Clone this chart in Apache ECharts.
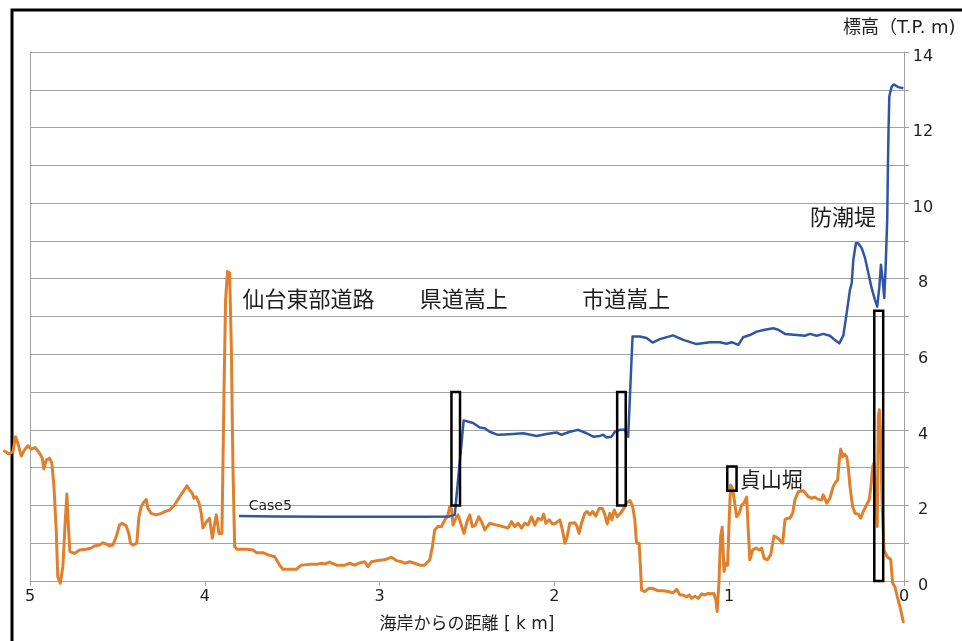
<!DOCTYPE html>
<html>
<head>
<meta charset="utf-8">
<script src="https://cdn.jsdelivr.net/npm/echarts@6/dist/echarts.min.js"></script>
<style>
  html, body { margin: 0; padding: 0; background: #fff; }
  #chart { width: 962px; height: 641px; }
</style>
</head>
<body>
<div id="chart"></div>
<script>
// Ground elevation profile along the survey line (distance from coast, km / elevation T.P. m)
const terrainX = [
  5.146, 5.121, 5.098, 5.083, 5.070, 5.050, 5.031, 5.012, 4.993, 4.970, 4.945, 4.930, 4.921, 4.907, 4.888, 4.875,
  4.863, 4.850, 4.841, 4.827, 4.812, 4.798, 4.789, 4.779, 4.772, 4.745, 4.717, 4.678, 4.650, 4.631, 4.602, 4.583,
  4.564, 4.545, 4.526, 4.507, 4.488, 4.473, 4.450, 4.435, 4.425, 4.412, 4.389, 4.377, 4.364, 4.351, 4.335, 4.326,
  4.307, 4.278, 4.249, 4.221, 4.201, 4.173, 4.144, 4.125, 4.102, 4.087, 4.071, 4.062, 4.049, 4.033, 4.020, 4.011,
  3.991, 3.973, 3.957, 3.943, 3.934, 3.919, 3.902, 3.890, 3.881, 3.870, 3.858, 3.848, 3.839, 3.829, 3.816, 3.762,
  3.724, 3.705, 3.667, 3.638, 3.600, 3.572, 3.553, 3.476, 3.448, 3.400, 3.362, 3.333, 3.314, 3.286, 3.247, 3.200,
  3.171, 3.143, 3.114, 3.085, 3.066, 3.047, 3.009, 2.971, 2.932, 2.904, 2.875, 2.856, 2.828, 2.799, 2.770, 2.742,
  2.713, 2.698, 2.685, 2.666, 2.646, 2.627, 2.608, 2.599, 2.589, 2.580, 2.564, 2.551, 2.536, 2.517, 2.500, 2.484,
  2.469, 2.452, 2.433, 2.417, 2.398, 2.370, 2.331, 2.294, 2.265, 2.246, 2.227, 2.208, 2.188, 2.169, 2.151, 2.131,
  2.112, 2.093, 2.074, 2.061, 2.049, 2.030, 2.011, 1.992, 1.969, 1.954, 1.940, 1.927, 1.912, 1.883, 1.870, 1.859,
  1.845, 1.826, 1.813, 1.797, 1.782, 1.763, 1.744, 1.725, 1.711, 1.698, 1.683, 1.671, 1.658, 1.641, 1.622, 1.603,
  1.587, 1.568, 1.555, 1.549, 1.540, 1.530, 1.515, 1.507, 1.501, 1.483, 1.458, 1.435, 1.406, 1.378, 1.349, 1.321,
  1.301, 1.282, 1.263, 1.244, 1.229, 1.215, 1.196, 1.177, 1.158, 1.139, 1.120, 1.101, 1.088, 1.076, 1.069, 1.059,
  1.049, 1.040, 1.030, 1.019, 1.009, 1.000, 0.992, 0.981, 0.971, 0.958, 0.943, 0.929, 0.916, 0.900, 0.891, 0.882,
  0.866, 0.847, 0.828, 0.815, 0.800, 0.782, 0.763, 0.744, 0.720, 0.694, 0.681, 0.668, 0.653, 0.637, 0.624, 0.605,
  0.576, 0.567, 0.548, 0.528, 0.509, 0.491, 0.471, 0.462, 0.442, 0.424, 0.405, 0.389, 0.380, 0.370, 0.362, 0.351,
  0.342, 0.328, 0.319, 0.309, 0.294, 0.280, 0.262, 0.248, 0.233, 0.214, 0.199, 0.189, 0.179, 0.172, 0.164, 0.153,
  0.147, 0.141, 0.134, 0.126, 0.114, 0.096, 0.076, 0.065, 0.052, 0.038, 0.023, 0.004
];
const terrainY = [
  3.44, 3.36, 3.42, 3.82, 3.65, 3.31, 3.47, 3.58, 3.49, 3.53, 3.38, 3.25, 2.97, 3.20, 3.25, 3.12,
  2.50, 1.35, 0.11, -0.06, 0.38, 1.62, 2.30, 1.35, 0.78, 0.73, 0.82, 0.84, 0.87, 0.93, 0.95, 1.01,
  0.98, 0.93, 0.95, 1.17, 1.48, 1.53, 1.46, 1.26, 1.00, 0.95, 1.00, 1.70, 1.97, 2.07, 2.16, 1.93,
  1.79, 1.75, 1.79, 1.85, 1.88, 2.01, 2.23, 2.36, 2.52, 2.41, 2.32, 2.19, 2.23, 2.06, 1.79, 1.40,
  1.57, 1.66, 1.13, 1.53, 1.75, 1.26, 1.26, 5.06, 7.44, 8.19, 8.15, 6.12, 3.03, 0.91, 0.84, 0.84,
  0.82, 0.75, 0.75, 0.69, 0.64, 0.42, 0.31, 0.31, 0.42, 0.44, 0.44, 0.47, 0.45, 0.50, 0.42, 0.42,
  0.47, 0.42, 0.48, 0.51, 0.38, 0.51, 0.54, 0.56, 0.63, 0.54, 0.51, 0.47, 0.51, 0.47, 0.42, 0.42,
  0.56, 0.91, 1.35, 1.44, 1.44, 1.62, 1.75, 1.97, 1.92, 1.48, 1.66, 1.75, 1.53, 1.26, 1.57, 1.75,
  1.44, 1.48, 1.70, 1.57, 1.35, 1.53, 1.48, 1.44, 1.40, 1.57, 1.44, 1.53, 1.40, 1.53, 1.48, 1.70,
  1.48, 1.66, 1.62, 1.77, 1.53, 1.62, 1.51, 1.53, 1.62, 1.35, 1.00, 1.17, 1.53, 1.54, 1.44, 1.26,
  1.53, 1.79, 1.84, 1.75, 1.84, 1.72, 1.92, 1.92, 1.75, 1.51, 1.79, 1.62, 1.88, 1.70, 1.79, 1.92,
  2.06, 2.13, 2.01, 1.88, 1.62, 1.00, 1.00, 0.29, -0.24, -0.28, -0.19, -0.20, -0.26, -0.26, -0.28, -0.31,
  -0.22, -0.37, -0.37, -0.42, -0.37, -0.46, -0.40, -0.46, -0.34, -0.37, -0.33, -0.34, -0.33, -0.50, -0.81, -0.06,
  1.17, 1.42, 0.25, 0.47, 0.42, 1.62, 2.54, 2.45, 2.15, 1.70, 1.79, 2.01, 2.06, 2.22, 1.35, 0.56,
  0.82, 0.87, 0.82, 0.87, 0.60, 0.56, 0.69, 1.19, 1.13, 1.00, 1.62, 1.66, 1.66, 1.79, 2.15, 2.36,
  2.39, 2.34, 2.23, 2.19, 2.22, 2.16, 2.15, 2.28, 2.06, 2.19, 2.50, 2.63, 2.67, 3.20, 3.49, 3.29,
  3.36, 3.29, 3.03, 2.50, 1.97, 1.79, 1.77, 1.66, 1.84, 2.01, 2.15, 2.50, 3.03, 3.12, 2.41, 1.44,
  4.35, 4.53, 3.91, 2.15, 0.82, 0.64, 0.57, -0.06, -0.15, -0.42, -0.68, -1.08
];

// Maximum inundation water level, Case5
const case5X = [
  3.805, 3.600, 3.300, 3.000, 2.750, 2.600, 2.570, 2.519, 2.465, 2.427, 2.398, 2.370, 2.331, 2.313, 2.236, 2.179,
  2.102, 2.045, 1.988, 1.959, 1.912, 1.864, 1.816, 1.778, 1.740, 1.721, 1.702, 1.673, 1.654, 1.626, 1.597, 1.578,
  1.553, 1.511, 1.473, 1.438, 1.397, 1.321, 1.263, 1.187, 1.110, 1.053, 1.015, 0.986, 0.948, 0.920, 0.882, 0.843,
  0.796, 0.748, 0.720, 0.681, 0.614, 0.567, 0.538, 0.500, 0.462, 0.424, 0.395, 0.370, 0.347, 0.328, 0.309, 0.299,
  0.290, 0.275, 0.262, 0.242, 0.223, 0.204, 0.185, 0.166, 0.153, 0.141, 0.132, 0.122, 0.113, 0.105, 0.096, 0.092,
  0.088, 0.084, 0.070, 0.057, 0.033, 0.004
];
const case5Y = [
  1.72, 1.71, 1.70, 1.70, 1.70, 1.71, 1.75, 4.25, 4.18, 4.06, 4.04, 3.95, 3.88, 3.87, 3.89, 3.91,
  3.84, 3.89, 3.93, 3.87, 3.95, 4.00, 3.91, 3.82, 3.84, 3.87, 3.80, 3.82, 3.95, 4.00, 4.00, 3.82,
  6.47, 6.47, 6.43, 6.31, 6.40, 6.50, 6.38, 6.27, 6.32, 6.32, 6.28, 6.32, 6.25, 6.45, 6.51, 6.60,
  6.65, 6.69, 6.65, 6.54, 6.51, 6.49, 6.54, 6.49, 6.54, 6.49, 6.38, 6.29, 6.50, 7.09, 7.71, 7.88,
  8.50, 8.94, 8.94, 8.81, 8.55, 8.15, 7.75, 7.44, 7.26, 7.79, 8.37, 7.97, 7.49, 8.32, 9.56, 11.00,
  12.03, 12.83, 13.09, 13.14, 13.07, 13.04
];

// Axis tick labels
const xTickLabels = [0, 1, 2, 3, 4, 5];
const yTickLabels = [0, 2, 4, 6, 8, 10, 12, 14];

// Structure outlines: distance range (km) and elevation range (m)
const boxX0 = [2.589, 1.641, 1.011, 0.170];
const boxX1 = [2.540, 1.592, 0.958, 0.119];
const boxY0 = [2.00, 2.00, 2.39, 0.00];
const boxY1 = [5.00, 5.00, 3.03, 7.15];

// Place-name notes anchored at (distance, elevation)
const noteText = ['仙台東部道路', '県道嵩上', '市道嵩上', '防潮堤', '貞山堀', 'Case5'];
const noteX = [3.784, 2.770, 1.841, 0.538, 0.939, 3.749];
const noteY = [7.47, 7.47, 7.47, 9.64, 2.69, 1.97];
const noteSize = [22, 22, 22, 22, 21, 14];

const FONT = '"DejaVu Sans", "Noto Sans CJK JP", sans-serif';
const CJK_FONT = '"Noto Sans CJK JP", sans-serif';
const GRID_COLOR = '#a3a3a3';
const TEXT_COLOR = '#1e1e1e';
const TERRAIN_COLOR = '#e07f2c';
const CASE5_COLOR = '#3055a5';

const zip = (xs, ys) => xs.map((x, i) => [x, ys[i]]);

// Polyline through the axis scales; the profile runs a little past both ends of the axis.
function profileRenderer(xs, ys, color, width) {
  return function (params, api) {
    const pts = xs.map((x, i) => api.coord([x, ys[i]]));
    return {
      type: 'polyline',
      shape: { points: pts },
      style: { fill: 'none', stroke: color, lineWidth: width, lineJoin: 'round', lineCap: 'round' }
    };
  };
}

const chart = echarts.init(document.getElementById('chart'), null, { renderer: 'canvas' });

chart.setOption({
  animation: false,
  backgroundColor: '#ffffff',
  grid: { left: 30, right: 58, top: 52, bottom: 60, containLabel: false },
  xAxis: {
    type: 'value',
    min: 0,
    max: 5,
    interval: 1,
    inverse: true,
    name: '海岸からの距離 [ k m]',
    nameLocation: 'middle',
    nameGap: 35,
    nameTextStyle: { fontFamily: FONT, fontSize: 17, color: TEXT_COLOR },
    axisLine: { show: true, lineStyle: { color: GRID_COLOR, width: 1 } },
    axisTick: { show: true, length: 5, lineStyle: { color: GRID_COLOR } },
    axisLabel: {
      margin: 8,
      fontFamily: FONT,
      fontSize: 16,
      color: TEXT_COLOR,
      formatter: v => (xTickLabels.includes(v) ? String(v) : '')
    },
    splitLine: { show: false }
  },
  yAxis: [
    {
      type: 'value',
      position: 'right',
      min: 0,
      max: 14,
      interval: 1,
      axisLine: { show: true, lineStyle: { color: GRID_COLOR, width: 1 } },
      axisTick: { show: true, length: 5, lineStyle: { color: GRID_COLOR } },
      axisLabel: {
        margin: 19,
        align: 'center',
        verticalAlign: 'top',
        lineHeight: 9,
        fontFamily: FONT,
        fontSize: 16,
        color: TEXT_COLOR,
        formatter: v => (yTickLabels.includes(v) ? String(v) : '')
      },
      splitLine: { show: true, lineStyle: { color: GRID_COLOR, width: 1 } }
    },
    {
      // plain border on the inland edge of the plot
      type: 'value',
      position: 'left',
      min: 0,
      max: 14,
      interval: 1,
      axisLine: { show: true, lineStyle: { color: GRID_COLOR, width: 1 } },
      axisTick: { show: false },
      axisLabel: { show: false },
      splitLine: { show: false }
    }
  ],
  graphic: [
    {
      type: 'rect',
      z: -10,
      shape: { x: 12, y: 10, width: 1000, height: 700 },
      style: { fill: 'none', stroke: '#000', lineWidth: 3 }
    },
    {
      type: 'text',
      left: 843,
      top: 19,
      style: { text: '標高（T.P. m)', font: '18px ' + FONT, fill: TEXT_COLOR }
    }
  ],
  series: [
    {
      name: '地盤高',
      type: 'custom',
      clip: false,
      z: 3,
      data: [[terrainX[0], terrainY[0]]],
      renderItem: profileRenderer(terrainX, terrainY, TERRAIN_COLOR, 3)
    },
    {
      name: 'Case5',
      type: 'line',
      data: zip(case5X, case5Y),
      showSymbol: false,
      clip: false,
      lineStyle: { color: CASE5_COLOR, width: 2.5, join: 'round' },
      z: 4
    },
    {
      name: 'structures',
      type: 'custom',
      clip: false,
      z: 5,
      data: boxX0.map((x0, i) => [x0, boxX1[i], boxY0[i], boxY1[i]]),
      renderItem(params, api) {
        const p0 = api.coord([api.value(0), api.value(2)]);
        const p1 = api.coord([api.value(1), api.value(3)]);
        return {
          type: 'rect',
          shape: {
            x: Math.min(p0[0], p1[0]),
            y: Math.min(p0[1], p1[1]),
            width: Math.abs(p1[0] - p0[0]),
            height: Math.abs(p1[1] - p0[1])
          },
          style: { fill: 'none', stroke: '#000', lineWidth: 2.5 }
        };
      }
    },
    {
      name: 'notes',
      type: 'custom',
      clip: false,
      z: 6,
      data: noteX.map((x, i) => [x, noteY[i], i]),
      renderItem(params, api) {
        const p = api.coord([api.value(0), api.value(1)]);
        const i = api.value(2);
        return {
          type: 'text',
          x: p[0],
          y: p[1],
          style: {
            text: noteText[i],
            font: noteSize[i] + 'px ' + (i === 5 ? FONT : CJK_FONT),
            fill: TEXT_COLOR,
            align: 'left',
            verticalAlign: 'middle'
          }
        };
      }
    }
  ]
});
</script>
</body>
</html>
